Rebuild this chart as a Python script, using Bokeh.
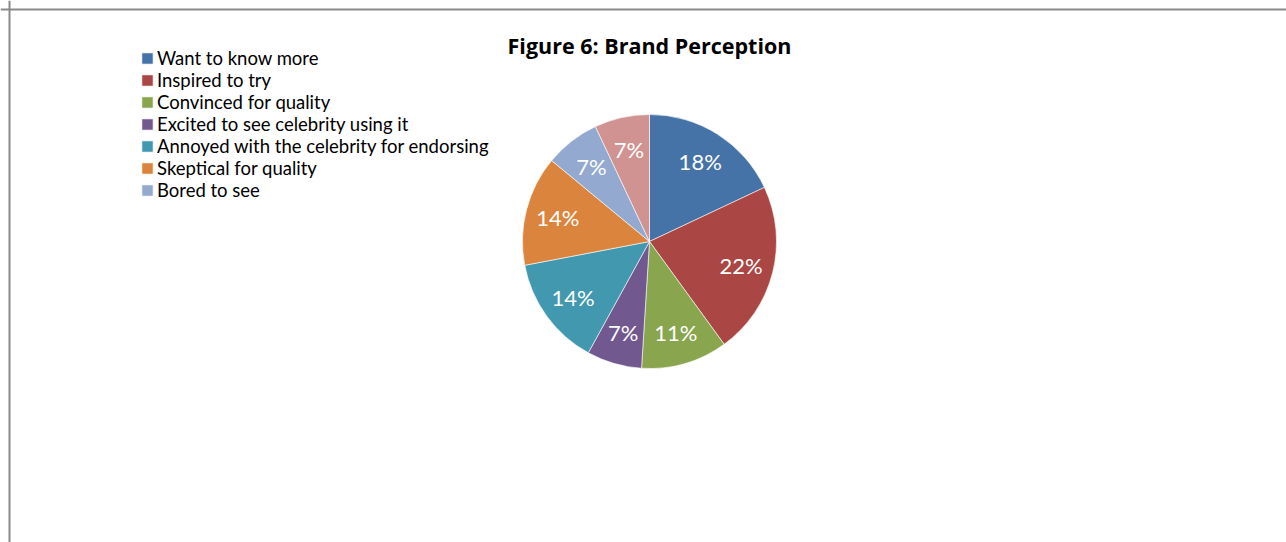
import math
from bokeh.plotting import figure
from bokeh.models import ColumnDataSource, Legend, LegendItem, Span
from bokeh.core.properties import value
from bokeh.embed import file_html
from bokeh.resources import INLINE

title = "Figure 6: Brand Perception"
categories = ["Want to know more", "Inspired to try", "Convinced for quality",
              "Excited to see celebrity using it", "Annoyed with the celebrity for endorsing",
              "Skeptical for quality", "Bored to see", "Other"]
shares = [18, 22, 11, 7, 14, 14, 7, 7]
colors = ["#4572A7", "#AA4643", "#89A54E", "#71588F", "#4198AF", "#DB843D", "#93A9CF", "#D19392"]
legend_count = 7

W, H = 1286, 542
cx, cy, R = 649, 241, 127
FONT = "Lato"

total = sum(shares)
starts, ends, lx, ly, labels = [], [], [], [], []
cum = 0.0
for s in shares:
    a0 = math.pi / 2 - 2 * math.pi * cum / total
    cum += s
    a1 = math.pi / 2 - 2 * math.pi * cum / total
    starts.append(a0)
    ends.append(a1)
    mid = (a0 + a1) / 2
    lx.append(cx + 0.745 * R * math.cos(mid))
    ly.append(cy - 0.745 * R * math.sin(mid))
    labels.append(f"{round(100 * s / total)}%")

src = ColumnDataSource(dict(cat=categories, share=shares, color=colors,
                            start=starts, end=ends, lx=lx, ly=ly, label=labels))

p = figure(width=W, height=H, x_range=(0, W), y_range=(H, 0),
           output_backend="svg", toolbar_location=None, min_border=0)
p.axis.visible = False
p.grid.visible = False
p.outline_line_color = None
p.background_fill_color = "white"

r = p.wedge(x=cx, y=cy, radius=R, start_angle="start", end_angle="end",
            direction="clock", fill_color="color", line_color="white",
            line_width=0.6, source=src)

p.text(x="lx", y="ly", text="label", source=src, text_color="white",
       text_font=value(FONT), text_font_size="22px", text_align="center",
       text_baseline="middle")

p.text(x=[cx], y=[45], text=[title], text_font=value("Open Sans"), text_font_size="21.5px",
       text_font_style="bold", text_align="center", text_baseline="middle",
       text_color="black")

items = [LegendItem(label=categories[i], renderers=[r], index=i) for i in range(legend_count)]
legend = Legend(items=items, location=(140, H - 47 - 22 * legend_count),
                glyph_width=14, glyph_height=14, label_height=22, spacing=0,
                label_standoff=3, padding=0, margin=0, border_line_color=None,
                background_fill_alpha=0, label_text_font=FONT,
                label_text_font_size="18.5px", label_text_color="black")
p.add_layout(legend, "center")

p.add_layout(Span(location=9, dimension="height", line_color="#8a8a8a", line_width=2))
p.add_layout(Span(location=9, dimension="width", line_color="#8a8a8a", line_width=2))

open("out.html", "w").write(file_html(p, INLINE))
